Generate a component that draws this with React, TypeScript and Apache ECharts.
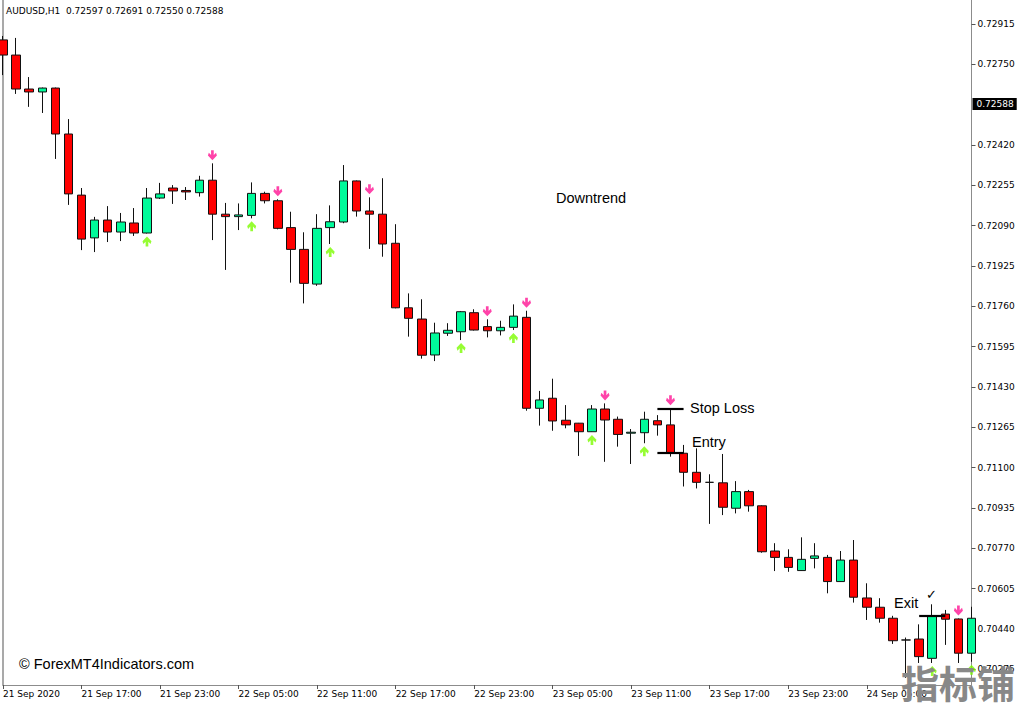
import React, { useEffect, useRef } from "react";
import * as echarts from "echarts";

// ---- data ----
const START_DAY = 21;
const START_HOUR = 11;
const BAR_COUNT = 75;
const CATEGORIES: string[] = Array.from({ length: BAR_COUNT }, (_, i) => {
  const h = START_HOUR + i;
  const d = START_DAY + Math.floor(h / 24);
  const hh = h % 24;
  return `${d} Sep ${String(hh).padStart(2, "0")}:00`;
});
const FIRST_LABEL = "21 Sep 2020";

const OPEN = [
  0.7285, 0.72788, 0.72649, 0.72637, 0.72653, 0.72465, 0.72215, 0.7204, 0.72113, 0.72064,
  0.72101, 0.7206, 0.72203, 0.72244, 0.72234, 0.72225, 0.72276, 0.72137, 0.72127, 0.72132,
  0.72222, 0.72192, 0.72082, 0.71993, 0.71851, 0.72082, 0.72105, 0.72273, 0.7215, 0.72137,
  0.72018, 0.71754, 0.71708, 0.71561, 0.7165, 0.71656, 0.71734, 0.71677, 0.7166, 0.71674,
  0.71715, 0.71343, 0.71384, 0.71294, 0.71282, 0.71247, 0.7134, 0.71298, 0.71241, 0.71243,
  0.71292, 0.71275, 0.71159, 0.71081, 0.7104, 0.71038, 0.70934, 0.71002, 0.70944, 0.70759,
  0.70733, 0.70679, 0.70729, 0.70733, 0.70634, 0.70722, 0.70567, 0.70529, 0.70484, 0.70395,
  0.70399, 0.7032, 0.70501, 0.70481, 0.70341,
];
const HIGH = [
  0.72866, 0.72858, 0.72698, 0.72655, 0.72655, 0.72526, 0.72244, 0.72126, 0.7217, 0.72142,
  0.72162, 0.72244, 0.72265, 0.72256, 0.72248, 0.72294, 0.72345, 0.72183, 0.72181, 0.72267,
  0.72229, 0.72198, 0.72147, 0.72063, 0.72137, 0.72173, 0.72338, 0.72275, 0.72206, 0.72284,
  0.72096, 0.71813, 0.71789, 0.71693, 0.71691, 0.71741, 0.71748, 0.71707, 0.71701, 0.71768,
  0.71742, 0.71414, 0.71464, 0.71356, 0.71283, 0.71356, 0.71363, 0.71309, 0.71258, 0.71329,
  0.71315, 0.71343, 0.71193, 0.71179, 0.71073, 0.71156, 0.71045, 0.71009, 0.70946, 0.70791,
  0.70766, 0.70815, 0.70791, 0.70743, 0.70759, 0.70804, 0.70627, 0.70566, 0.70494, 0.70405,
  0.70459, 0.70541, 0.70518, 0.70483, 0.70531,
];
const LOW = [
  0.72706, 0.72629, 0.72576, 0.72551, 0.72363, 0.72175, 0.7199, 0.71982, 0.72023, 0.72027,
  0.72048, 0.72058, 0.72199, 0.72179, 0.72195, 0.72209, 0.72031, 0.71909, 0.72072, 0.7212,
  0.72181, 0.72075, 0.71857, 0.71772, 0.71844, 0.72015, 0.721, 0.72127, 0.71995, 0.71963,
  0.71752, 0.71636, 0.71546, 0.71536, 0.71639, 0.71622, 0.71661, 0.71633, 0.71641, 0.71663,
  0.71333, 0.71272, 0.71251, 0.71261, 0.71148, 0.71246, 0.71124, 0.71186, 0.71115, 0.712,
  0.71231, 0.71145, 0.71023, 0.71015, 0.7087, 0.70906, 0.70913, 0.7092, 0.70752, 0.70677,
  0.70674, 0.70678, 0.70688, 0.70586, 0.70633, 0.70548, 0.70477, 0.70466, 0.70379, 0.7024,
  0.70301, 0.70301, 0.70375, 0.70301, 0.70306,
];
const CLOSE = [
  0.72788, 0.72649, 0.72637, 0.72653, 0.72465, 0.7222, 0.72035, 0.72113, 0.72064, 0.72105,
  0.7206, 0.72203, 0.7222, 0.72232, 0.72228, 0.72276, 0.72137, 0.72127, 0.72134, 0.72222,
  0.72192, 0.72079, 0.71993, 0.71854, 0.72079, 0.72106, 0.72273, 0.7215, 0.72137, 0.72015,
  0.71754, 0.71711, 0.7156, 0.71651, 0.71662, 0.71738, 0.71663, 0.7166, 0.71674, 0.7172,
  0.71343, 0.71377, 0.71291, 0.71275, 0.71247, 0.7134, 0.71295, 0.71236, 0.71245, 0.71298,
  0.71275, 0.71159, 0.71081, 0.7104, 0.7104, 0.70938, 0.71002, 0.70944, 0.70756, 0.70733,
  0.70692, 0.70725, 0.70739, 0.70634, 0.70722, 0.7057, 0.70529, 0.70484, 0.70392, 0.70395,
  0.70327, 0.70493, 0.7048, 0.70341, 0.70484,
];

const UP_ARROW_BARS = [11, 19, 25, 35, 39, 45, 49, 71, 74];
const DOWN_ARROW_BARS = [16, 21, 28, 37, 40, 46, 51, 73];

const PRICE_TICKS = [
  0.72915, 0.7275, 0.7242, 0.72255, 0.7209, 0.71925, 0.7176, 0.71595, 0.7143, 0.71265,
  0.711, 0.70935, 0.7077, 0.70605, 0.7044, 0.70275,
];
const Y_MIN = 0.702109;
const Y_MAX = 0.730132;
const CURRENT_PRICE = 0.72588;
const HEADER_SYMBOL = "AUDUSD,H1";
const HEADER_OHLC = ["0.72597", "0.72691", "0.72550", "0.72588"];

const STOP_LOSS = { price: 0.71343, from: 50, to: 52 };
const ENTRY = { price: 0.71159, from: 50, to: 52 };
const EXIT = { price: 0.70495, from: 70, to: 72 };

const BULL = "#00FA9A";
const BEAR = "#FF0000";
const UP_COLOR = "#7CFC00";
const DOWN_COLOR = "#FF1493";
const AXIS_GREY = "#8c8c8c";
const TAHOMA = '"DejaVu Sans", sans-serif';
const ARIAL = '"Liberation Sans", Arial, sans-serif';

const DOWN_ARROW =
  "path://M3.5,0 L6.5,0 L6.5,5 L9,2.5 L10,5.5 L5,10.5 L0,5.5 L1,2.5 L3.5,5 Z";
const UP_ARROW =
  "path://M3.5,10.5 L6.5,10.5 L6.5,5.5 L9,8 L10,5 L5,0 L0,5 L1,8 L3.5,5.5 Z";

export default function App() {
  const ref = useRef<HTMLDivElement | null>(null);

  useEffect(() => {
    if (!ref.current) return;
    const chart = echarts.init(ref.current, null, { renderer: "svg" });

    const candleData = OPEN.map((o, i) => [o, CLOSE[i], LOW[i], HIGH[i]]);
    const levelLine = (lv: { price: number; from: number; to: number }) => [
      {
        coord: [CATEGORIES[lv.from], lv.price],
        symbol: "none",
        lineStyle: { color: "#000", width: 2.2, type: "solid" },
        label: { show: false },
      },
      { coord: [CATEGORIES[lv.to], lv.price], symbol: "none" },
    ];

    const textEl = (text: string, x: number, y: number, font: string, fill = "#000") => ({
      type: "text",
      x,
      y,
      z: 100,
      style: { text, font, fill, textAlign: "left", verticalAlign: "middle", textVerticalAlign: "middle" },
    });

    chart.setOption({
      animation: false,
      backgroundColor: "#ffffff",
      grid: { left: 2.5, right: 52.5, top: 0, bottom: 20, containLabel: false },
      xAxis: {
        type: "category",
        data: CATEGORIES,
        boundaryGap: false,
        axisLine: { show: true, lineStyle: { color: AXIS_GREY, width: 1 } },
        axisTick: { show: true, interval: 5, length: 4, lineStyle: { color: "#555" } },
        axisLabel: {
          interval: 5,
          showMaxLabel: false,
          margin: 4,
          align: "left",
          color: "#000",
          fontFamily: TAHOMA,
          fontSize: 9,
          formatter: (v: string, idx: number) => (idx === 0 ? FIRST_LABEL : v),
        },
        splitLine: { show: false },
      },
      yAxis: [
        {
          type: "value",
          position: "right",
          min: Y_MIN,
          max: Y_MAX,
          scale: true,
          axisLine: { show: true, lineStyle: { color: AXIS_GREY, width: 1 } },
          axisTick: { show: true, length: 4, customValues: PRICE_TICKS, lineStyle: { color: "#555" } },
          axisLabel: {
            customValues: PRICE_TICKS,
            margin: 6,
            color: "#000",
            fontFamily: TAHOMA,
            fontSize: 9,
            formatter: (v: number) => v.toFixed(5),
          },
          splitLine: { show: false },
        },
        {
          type: "value",
          position: "left",
          min: Y_MIN,
          max: Y_MAX,
          axisLine: { show: true, lineStyle: { color: AXIS_GREY, width: 1.5 } },
          axisTick: { show: false },
          axisLabel: { show: false },
          splitLine: { show: false },
        },
      ],
      series: [
        {
          type: "candlestick",
          data: candleData,
          barWidth: 9,
          itemStyle: {
            color: BULL,
            color0: BEAR,
            borderColor: "#111",
            borderColor0: "#111",
            borderWidth: 1,
          },
          markLine: {
            silent: true,
            symbol: ["none", "none"],
            animation: false,
            data: [
              [
                {
                  coord: [CATEGORIES[0], CURRENT_PRICE],
                  symbol: "none",
                  lineStyle: { color: "rgba(0,0,0,0)", width: 1, type: "solid" },
                  label: {
                    show: true,
                    position: "end",
                    distance: 1,
                    formatter: CURRENT_PRICE.toFixed(5),
                    backgroundColor: "#000",
                    color: "#fff",
                    fontFamily: TAHOMA,
                    fontSize: 9,
                    padding: [2, 3, 1, 4],
                  },
                },
                { coord: [CATEGORIES[BAR_COUNT - 1], CURRENT_PRICE], symbol: "none" },
              ],
              levelLine(STOP_LOSS),
              levelLine(ENTRY),
              levelLine(EXIT),
            ],
          },
        },
        {
          type: "scatter",
          data: UP_ARROW_BARS.map((i) => [i, LOW[i]]),
          symbol: UP_ARROW,
          symbolSize: [9, 10],
          symbolOffset: [0, 8],
          itemStyle: { color: UP_COLOR },
          silent: true,
          z: 5,
        },
        {
          type: "scatter",
          data: DOWN_ARROW_BARS.map((i) => [i, HIGH[i]]),
          symbol: DOWN_ARROW,
          symbolSize: [9, 10],
          symbolOffset: [0, -8],
          itemStyle: { color: DOWN_COLOR },
          silent: true,
          z: 5,
        },
      ],
      graphic: [
        textEl(`${HEADER_SYMBOL}  ${HEADER_OHLC.join(" ")}`, 6, 11, `9px ${TAHOMA}`),
        textEl("Downtrend", 556, 198, `14.5px ${ARIAL}`),
        textEl("Stop Loss", 690, 408, `14.5px ${ARIAL}`),
        textEl("Entry", 692, 442, `14.5px ${ARIAL}`),
        textEl("Exit", 894, 603, `14.5px ${ARIAL}`),
        textEl("\u2713", 926, 594, `13px ${TAHOMA}`),
        textEl("\u00A9 ForexMT4Indicators.com", 19, 664, `14.5px ${ARIAL}`),
        {
          type: "text",
          x: 901,
          y: 681,
          z: 200,
          zlevel: 0,
          style: {
            text: "指标铺",
            font: 'bold 38px "Noto Sans CJK SC", sans-serif',
            fill: "#888888",
            textAlign: "left",
            verticalAlign: "middle",
            textVerticalAlign: "middle",
          },
        },
      ],
    });

    return () => chart.dispose();
  }, []);

  return (
    <div
      ref={ref}
      style={{ position: "fixed", left: 0, top: 0, width: 1024, height: 705, background: "#fff" }}
    />
  );
}
